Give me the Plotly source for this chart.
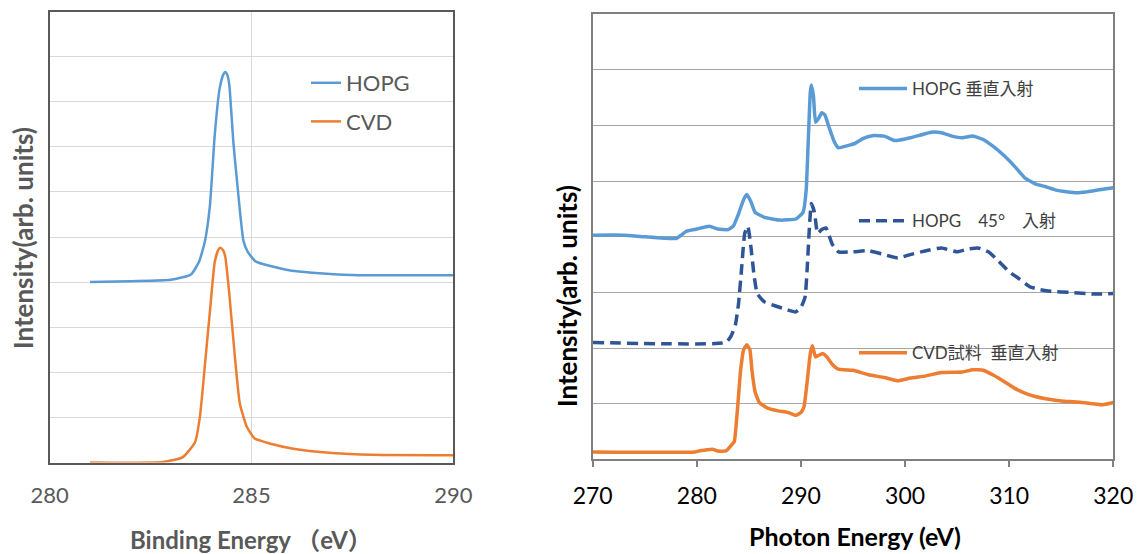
import plotly.graph_objects as go

# ---- Left chart (XPS C1s) ----
xps_hopg_x = [281.0, 282.0, 283.0, 283.5, 283.7, 283.85, 283.97, 284.09, 284.21, 284.3, 284.35, 284.4, 284.45, 284.55, 284.64,
              284.8, 284.9, 285.1, 285.5, 286.0, 286.5, 287.5, 288.5, 290.0]
xps_hopg_y = [4.0, 4.02, 4.05, 4.17, 4.45, 4.92, 5.7, 7.27, 8.29, 8.6, 8.66, 8.6, 8.37, 7.11, 6.25,
              4.92, 4.68, 4.46, 4.35, 4.25, 4.21, 4.16, 4.15, 4.15]
xps_cvd_x = [281.0, 282.8, 283.3, 283.6, 283.72, 283.87, 283.97, 284.09, 284.18, 284.23, 284.3, 284.35, 284.45, 284.59, 284.71,
             284.88, 285.08, 285.5, 286.0, 287.0, 288.0, 290.0]
xps_cvd_y = [0.0, 0.01, 0.12, 0.45, 1.0, 2.4, 3.35, 4.45, 4.72, 4.76, 4.7, 4.56, 3.74, 2.33, 1.31,
             0.8, 0.53, 0.41, 0.31, 0.21, 0.17, 0.16]
left_xticks = [280, 285, 290]

# ---- Right chart (NEXAFS) ----
nx_hopg_n_x = [270, 273, 275, 278, 278.5, 279, 280, 281.2, 282, 283, 283.5, 284, 284.5, 284.8, 285.2, 285.6,
               286.5, 288, 289.5, 290.2, 290.5, 290.7, 290.9, 291.0, 291.2, 291.4, 291.7, 292.0, 292.3, 292.7,
               293.2, 293.6, 294.5, 295.2, 296, 297, 298, 299, 299.5, 300.5, 301.5, 302.5, 303.5, 304.5, 305.5,
               306.5, 307.5, 308.5, 309.5, 310.5, 311.5, 312.5, 313.5, 314.5, 315.5, 316.5, 317.5, 318.5, 320]
nx_hopg_n_y = [4.03, 4.03, 4.0, 3.97, 4.03, 4.1, 4.14, 4.19, 4.14, 4.13, 4.19, 4.41, 4.67, 4.76, 4.63, 4.44,
               4.35, 4.3, 4.32, 4.44, 4.83, 5.71, 6.6, 6.73, 6.54, 6.06, 6.13, 6.23, 6.19, 5.97,
               5.71, 5.6, 5.64, 5.68, 5.77, 5.82, 5.81, 5.73, 5.74, 5.78, 5.83, 5.88, 5.87, 5.81, 5.78,
               5.81, 5.75, 5.62, 5.46, 5.27, 5.06, 4.95, 4.9, 4.84, 4.81, 4.79, 4.81, 4.84, 4.88]

nx_hopg_45_x = [270, 282.8, 283.3, 283.7, 284.0, 284.3, 284.6, 284.9, 285.2, 285.5, 285.8, 286.5, 287.5, 288.5,
                289.5, 290, 290.4, 290.6, 290.8, 291.0, 291.3, 291.6, 292.0, 292.4, 293, 293.6, 295, 296.5, 298,
                299.3, 300.5, 302, 303.5, 305, 306, 307, 308, 309, 310, 311, 312, 313, 314, 316, 318, 320]
nx_hopg_45_y = [2.1, 2.1, 2.22, 2.41, 2.79, 3.43, 4.06, 4.19, 3.81, 3.3, 2.98, 2.83, 2.76, 2.7,
                2.65, 2.73, 2.92, 3.43, 4.13, 4.6, 4.44, 4.06, 4.13, 4.16, 3.87, 3.73, 3.73, 3.75, 3.68,
                3.62, 3.68, 3.75, 3.8, 3.73, 3.78, 3.8, 3.73, 3.56, 3.37, 3.24, 3.1, 3.05, 3.02, 3.0, 2.97, 2.98]

nx_cvd_x = [270, 279.8, 280.2, 281, 281.5, 282, 282.8, 283.3, 283.6, 283.9, 284.2, 284.5, 284.8, 285.1, 285.3,
            285.6, 286, 286.8, 287.8, 288.8, 289.5, 290, 290.3, 290.6, 290.9, 291.1, 291.4, 291.7, 292.1, 292.5,
            293, 293.6, 295, 296.5, 298, 299.3, 300.5, 302, 303.5, 305.5, 306.5, 307.5, 308.5, 309.5, 310.5,
            311.5, 312.5, 313.5, 315, 316.5, 318, 319, 320]
nx_cvd_y = [0.13, 0.13, 0.15, 0.17, 0.18, 0.15, 0.15, 0.25, 0.32, 0.89, 1.59, 1.97, 2.06, 1.97, 1.59,
            1.21, 1.02, 0.92, 0.87, 0.84, 0.79, 0.84, 0.95, 1.4, 1.9, 2.04, 1.84, 1.87, 1.9, 1.84,
            1.71, 1.62, 1.6, 1.52, 1.47, 1.41, 1.46, 1.5, 1.56, 1.57, 1.61, 1.6, 1.51, 1.4, 1.28,
            1.19, 1.13, 1.09, 1.05, 1.03, 1.0, 0.98, 1.02]
right_xticks = [270, 280, 290, 300, 310, 320]

BLUE = "#5B9BD5"
ORANGE = "#ED7D31"
NAVY = "#2F5597"
GRAY_TXT = "#595959"
FONT = "Lato, Noto Sans CJK JP, sans-serif"

OFF = 8  # default page body margin
W, H = 1141 - OFF, 554 - OFF
def px_x(p):
    return (p - OFF) / W
def px_y(p):
    return 1 - (p - OFF) / H

fig = go.Figure()

fig.add_trace(go.Scatter(x=xps_hopg_x, y=xps_hopg_y, mode="lines", name="HOPG",
                         line=dict(color=BLUE, width=2.5, shape="spline", smoothing=0.5), xaxis="x", yaxis="y",
                         legend="legend", legendgroup="a"))
fig.add_trace(go.Scatter(x=xps_cvd_x, y=xps_cvd_y, mode="lines", name="CVD",
                         line=dict(color=ORANGE, width=2.5, shape="spline", smoothing=0.5), xaxis="x", yaxis="y",
                         legend="legend", legendgroup="b"))

fig.add_trace(go.Scatter(x=nx_hopg_n_x, y=nx_hopg_n_y, mode="lines", name="HOPG 垂直入射",
                         line=dict(color=BLUE, width=3.5, shape="spline", smoothing=0.4), xaxis="x2", yaxis="y2",
                         legend="legend2", legendgroup="c"))
fig.add_trace(go.Scatter(x=nx_hopg_45_x, y=nx_hopg_45_y, mode="lines", name="HOPG　45°　入射",
                         line=dict(color=NAVY, width=3.5, dash="11px,6px", shape="spline", smoothing=0.4),
                         xaxis="x2", yaxis="y2", legend="legend2", legendgroup="d"))
fig.add_trace(go.Scatter(x=nx_cvd_x, y=nx_cvd_y, mode="lines", name="CVD試料  垂直入射",
                         line=dict(color=ORANGE, width=3.5, shape="spline", smoothing=0.4), xaxis="x2", yaxis="y2",
                         legend="legend2", legendgroup="e"))

fig.update_layout(
    template="none",
    width=W, height=H, autosize=False,
    margin=dict(l=0, r=0, t=0, b=0, pad=0, autoexpand=False),
    paper_bgcolor="white", plot_bgcolor="white",
    font=dict(family=FONT),
    xaxis=dict(domain=[px_x(49.7), px_x(453.3)], range=[280, 290], tickvals=left_xticks, automargin=False,
               showgrid=True, gridcolor="#D9D9D9", gridwidth=1, zeroline=False,
               showline=True, linecolor="#595959", linewidth=1.5, mirror=True,
               ticks="", tickfont=dict(size=22, color=GRAY_TXT, family=FONT),
               ticklabelstandoff=12, anchor="y"),
    yaxis=dict(domain=[px_y(462.5), px_y(11.5)], range=[0, 10], dtick=1, showticklabels=False, automargin=False,
               showgrid=True, gridcolor="#D9D9D9", gridwidth=1, zeroline=False,
               showline=True, linecolor="#595959", linewidth=1.5, mirror=True, ticks="", anchor="x"),
    xaxis2=dict(domain=[px_x(592.7), px_x(1113.3)], range=[270, 320], tickvals=right_xticks, automargin=False,
                showgrid=False, zeroline=False,
                showline=True, linecolor="#808080", linewidth=1.5, mirror=True,
                ticks="outside", ticklen=6, tickcolor="#808080", tickwidth=1.5,
                tickfont=dict(size=23, color="#000000", family=FONT),
                ticklabelstandoff=9, anchor="y2"),
    yaxis2=dict(domain=[px_y(459.3), px_y(14.3)], range=[0, 8], dtick=1, showticklabels=False, automargin=False,
                showgrid=True, gridcolor="#A6A6A6", gridwidth=1.2, zeroline=False,
                showline=True, linecolor="#808080", linewidth=1.5, mirror=True, ticks="", anchor="x2"),
    legend=dict(x=px_x(306), y=px_y(62), xanchor="left", yanchor="top",
                bgcolor="rgba(0,0,0,0)", font=dict(size=22, color=GRAY_TXT, family=FONT),
                tracegroupgap=7, itemwidth=30),
    legend2=dict(x=px_x(854), y=px_y(71), xanchor="left", yanchor="top",
                 bgcolor="rgba(0,0,0,0)", font=dict(size=17, color="#404040", family=FONT),
                 tracegroupgap=107, itemwidth=48),
    annotations=[
        dict(text="<b>Binding Energy （eV）</b>", x=px_x(251), y=px_y(539), xref="paper", yref="paper",
             showarrow=False, font=dict(size=24, color=GRAY_TXT, family=FONT), xanchor="center", yanchor="middle"),
        dict(text="<b>Intensity(arb. units)</b>", x=px_x(23), y=px_y(238), xref="paper", yref="paper",
             showarrow=False, textangle=-90, font=dict(size=26, color=GRAY_TXT, family=FONT),
             xanchor="center", yanchor="middle"),
        dict(text="<b>Photon Energy (eV)</b>", x=px_x(855), y=px_y(536), xref="paper", yref="paper",
             showarrow=False, font=dict(size=25, color="#000000", family=FONT), xanchor="center", yanchor="middle"),
        dict(text="<b>Intensity(arb. units)</b>", x=px_x(567), y=px_y(296), xref="paper", yref="paper",
             showarrow=False, textangle=-90, font=dict(size=26, color="#000000", family=FONT),
             xanchor="center", yanchor="middle"),
    ],
)

fig.write_html("out.html")
